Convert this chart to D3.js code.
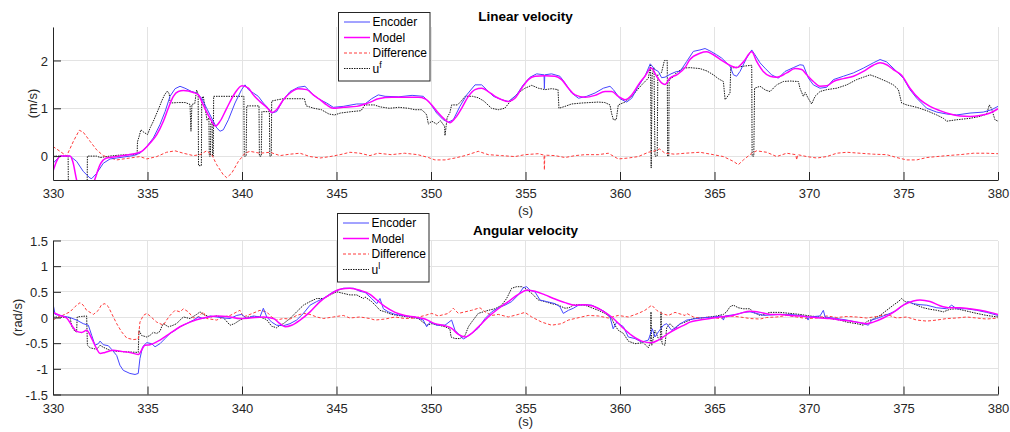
<!DOCTYPE html>
<html><head><meta charset="utf-8">
<script src="https://cdn.jsdelivr.net/npm/d3@7"></script>
<style>
body{margin:0;background:#fff;}
svg{display:block;font-family:"Liberation Sans",Arial,Helvetica,sans-serif;}
</style></head><body>
<svg id="chart" width="1010" height="432"></svg>
<script>
// ---------- tick labels ----------
const xTicks = [330,335,340,345,350,355,360,365,370,375,380];
const linYTicks = [0,1,2];
const angYTicks = [-1.5,-1,-0.5,0,0.5,1,1.5];
const linTitle = "Linear velocity";
const angTitle = "Angular velocity";
const xLabel = "(s)";
const linYLabel = "(m/s)";
const angYLabel = "(rad/s)";
const legendNames = ["Encoder","Model","Difference","u"];
const linUSup = "f";
const angUSup = "l";

// ---------- linear velocity series [time, value] ----------
const linEncoder = [[330.0,-0.15],[330.37,0],[330.9,0],[331.25,-0.11],[331.6,-0.32],[331.96,-0.46],[332.05,-0.47],[332.31,-0.36],[332.66,-0.15],[333.02,-0.06],[333.37,-0.04],[334.25,0.01],[334.6,0.06],[334.96,0.2],[335.31,0.38],[335.66,0.66],[335.93,0.93],[336.19,1.25],[336.46,1.41],[336.72,1.46],[336.98,1.42],[337.34,1.35],[337.6,1.32],[337.87,1.21],[338.13,1.0],[338.48,0.73],[338.66,0.59],[338.84,0.52],[339.01,0.55],[339.28,0.76],[339.63,1.11],[339.98,1.39],[340.16,1.49],[340.34,1.39],[340.6,1.32],[340.86,1.25],[341.13,1.11],[341.39,1.0],[341.57,0.9],[341.83,0.93],[342.19,1.18],[342.54,1.35],[342.98,1.44],[343.33,1.46],[343.51,1.39],[343.77,1.28],[344.13,1.18],[344.48,1.11],[344.83,1.02],[345.36,1.04],[346.07,1.09],[346.51,1.09],[346.86,1.2],[347.21,1.28],[347.57,1.25],[348.3,1.24],[349.0,1.27],[349.59,1.25],[349.95,1.11],[350.3,0.9],[350.65,0.76],[350.92,0.71],[351.18,0.76],[351.53,1.04],[351.89,1.28],[352.33,1.49],[352.68,1.49],[352.94,1.39],[353.3,1.25],[353.74,1.18],[354.09,1.14],[354.53,1.28],[354.88,1.49],[355.24,1.65],[355.59,1.72],[355.98,1.70],[356.0,1.41],[356.02,1.70],[356.38,1.72],[356.82,1.67],[357.09,1.53],[357.44,1.32],[357.8,1.21],[358.24,1.25],[358.68,1.32],[359.12,1.42],[359.47,1.46],[359.65,1.39],[360.0,1.2],[360.35,1.13],[360.62,1.21],[360.97,1.46],[361.32,1.67],[361.6,1.93],[361.85,1.81],[362.03,1.77],[362.2,1.64],[362.38,1.65],[362.7,1.72],[363.0,1.77],[363.18,1.77],[363.53,1.98],[363.88,2.19],[364.23,2.22],[364.5,2.25],[364.76,2.2],[365.11,2.12],[365.38,2.05],[365.56,1.98],[365.82,1.88],[366.0,1.7],[366.17,1.67],[366.35,1.77],[366.7,2.05],[366.97,2.22],[367.14,2.12],[367.41,1.95],[367.67,1.84],[368.02,1.7],[368.38,1.63],[368.73,1.77],[369.17,1.85],[369.52,1.91],[369.7,1.9],[369.97,1.63],[370.23,1.49],[370.58,1.42],[370.94,1.44],[371.29,1.6],[371.82,1.67],[372.35,1.74],[372.88,1.84],[373.4,1.95],[373.76,2.02],[374.11,1.97],[374.64,1.77],[374.99,1.63],[375.34,1.39],[375.7,1.21],[376.23,1.0],[376.76,0.92],[377.29,0.88],[377.81,0.86],[378.52,0.9],[379.22,0.92],[379.66,0.97],[380.0,1.04]];

const linModel = [[330.0,-0.32],[330.2,-0.1],[330.4,0.0],[330.9,0.0],[331.05,-0.12],[331.25,-0.5],[331.7,-0.95],[332.2,-0.5],[332.49,-0.18],[332.84,-0.04],[333.37,-0.01],[334.0,0.03],[334.43,0.06],[334.69,0.10],[335.13,0.27],[335.49,0.45],[335.84,0.73],[336.1,1.0],[336.37,1.25],[336.63,1.35],[336.9,1.37],[337.43,1.33],[337.69,1.28],[337.95,1.07],[338.31,0.79],[338.6,0.63],[338.84,0.73],[339.19,1.0],[339.63,1.32],[340.0,1.47],[340.34,1.42],[340.6,1.28],[340.95,1.14],[341.31,1.02],[341.6,0.91],[341.83,0.97],[342.19,1.18],[342.54,1.32],[342.98,1.41],[343.42,1.39],[343.77,1.28],[344.13,1.18],[344.48,1.07],[344.83,1.0],[345.36,1.02],[346.07,1.04],[346.51,1.09],[346.86,1.14],[347.21,1.2],[347.92,1.23],[348.62,1.23],[349.33,1.23],[349.68,1.2],[350.04,1.07],[350.39,0.9],[350.74,0.76],[351.0,0.7],[351.27,0.79],[351.62,1.0],[351.98,1.25],[352.33,1.39],[352.68,1.42],[353.03,1.35],[353.39,1.25],[353.74,1.18],[354.09,1.14],[354.44,1.21],[354.8,1.42],[355.15,1.6],[355.5,1.67],[356.03,1.68],[356.56,1.67],[356.91,1.6],[357.27,1.42],[357.62,1.28],[358.15,1.23],[358.68,1.27],[359.21,1.35],[359.56,1.35],[359.91,1.25],[360.26,1.18],[360.62,1.28],[360.97,1.49],[361.32,1.67],[361.65,1.84],[361.94,1.67],[362.2,1.53],[362.38,1.5],[362.64,1.63],[363.0,1.7],[363.44,1.85],[363.7,2.02],[364.23,2.15],[364.59,2.18],[364.94,2.12],[365.47,1.98],[365.91,1.88],[366.17,1.85],[366.53,1.97],[366.97,2.18],[367.23,1.98],[367.58,1.77],[367.94,1.67],[368.29,1.65],[368.82,1.74],[369.26,1.83],[369.61,1.81],[369.88,1.7],[370.23,1.56],[370.58,1.46],[370.94,1.47],[371.29,1.56],[371.82,1.62],[372.35,1.67],[372.88,1.77],[373.4,1.9],[373.76,1.95],[374.11,1.91],[374.46,1.81],[374.9,1.69],[375.34,1.42],[375.87,1.18],[376.4,1.04],[376.93,0.95],[377.46,0.88],[377.99,0.84],[378.52,0.83],[379.05,0.85],[379.58,0.9],[380.0,0.99]];

const linDiff = [[330.0,0.2],[330.37,0.1],[330.72,0.0],[331.08,0.31],[331.39,0.54],[331.6,0.5],[331.96,0.31],[332.31,0.13],[332.66,0.01],[333.37,-0.08],[334.07,-0.04],[334.6,-0.01],[334.96,-0.06],[335.49,-0.01],[336.01,0.08],[336.46,0.11],[336.9,0.06],[337.43,0.01],[337.78,0.03],[338.13,0.11],[338.4,0.03],[338.66,-0.18],[339.01,-0.39],[339.19,-0.45],[339.45,-0.36],[339.81,-0.11],[340.16,0.06],[340.42,0.1],[340.95,0.06],[341.48,0.08],[342.01,0.01],[342.54,0.04],[343.07,0.06],[343.6,-0.01],[344.13,-0.04],[344.66,-0.01],[345.19,0.03],[345.71,0.08],[346.24,0.06],[346.77,0.01],[347.2,0.06],[347.9,0.03],[348.6,0.06],[349.3,0.03],[349.86,-0.03],[350.21,-0.08],[350.74,-0.08],[351.27,-0.04],[351.8,0.01],[352.5,0.1],[353.03,0.03],[353.74,0.01],[354.44,-0.01],[354.97,0.03],[355.68,0.05],[355.98,0.02],[356.0,-0.29],[356.02,0.02],[356.56,0.01],[357.09,-0.03],[357.62,0.01],[358.15,0.03],[358.85,0.03],[359.38,0.06],[359.91,-0.06],[360.44,-0.04],[360.97,-0.01],[361.5,0.08],[361.85,0.11],[362.1,0.15],[362.38,0.06],[362.9,0.04],[363.44,0.06],[364.23,0.08],[364.94,0.03],[365.47,-0.01],[366.0,-0.11],[366.26,-0.18],[366.53,-0.08],[366.97,0.06],[367.23,0.11],[367.76,0.08],[368.29,-0.01],[368.82,0.06],[369.3,0.03],[369.35,-0.08],[369.4,0.03],[369.88,-0.01],[370.41,-0.04],[370.94,-0.01],[371.47,0.06],[372.0,0.08],[372.7,0.06],[373.4,0.04],[374.11,0.03],[374.64,-0.03],[375.17,-0.08],[375.7,-0.08],[376.23,-0.03],[376.76,-0.01],[377.29,0.01],[377.99,0.03],[378.7,0.06],[379.4,0.06],[380.0,0.05]];

const linU = [[330.0,0],[330.8,0],[330.82,-1.0],[331.8,-1.0],[331.82,0.0],[332.3,0.0],[332.5,-0.03],[333.0,0.0],[333.5,0.02],[334.0,0.03],[334.45,0.03],[334.47,0.3],[334.55,0.4],[334.65,0.55],[334.8,0.5],[335.0,0.45],[335.15,0.6],[335.3,0.72],[335.45,0.86],[335.6,1.0],[335.75,1.15],[335.9,1.28],[336.05,1.36],[336.15,1.3],[336.2,1.11],[336.6,1.12],[337.0,1.12],[337.25,1.08],[337.3,0.52],[337.35,1.08],[337.5,1.1],[337.6,1.38],[337.68,1.3],[337.7,-0.2],[337.85,-0.2],[337.87,1.2],[337.95,1.25],[338.05,1.0],[338.15,0.75],[338.25,0.8],[338.27,0.0],[338.33,0.0],[338.35,0.7],[338.42,0.7],[338.44,0.0],[338.48,0.0],[338.5,1.25],[340.1,1.25],[340.12,0.0],[340.22,0.0],[340.25,1.05],[340.9,1.05],[340.92,0.0],[341.02,0.0],[341.05,0.93],[341.45,0.93],[341.47,0.0],[341.55,0.0],[341.57,1.15],[341.9,1.18],[342.2,1.2],[343.3,1.2],[343.4,1.05],[343.8,1.0],[344.2,0.97],[344.6,0.88],[344.9,0.86],[345.2,0.9],[345.8,0.93],[346.3,0.95],[346.5,1.07],[347.0,1.07],[347.3,1.03],[347.8,1.0],[348.3,1.02],[348.8,1.0],[349.15,0.97],[349.5,0.97],[349.7,0.9],[349.77,0.86],[349.86,0.67],[350.04,0.73],[350.3,0.67],[350.5,0.74],[350.65,0.66],[350.72,0.62],[350.74,0.43],[350.8,0.62],[350.85,0.8],[351.0,0.91],[351.09,1.07],[351.4,1.07],[351.6,1.15],[351.8,1.25],[352.2,1.25],[352.5,1.22],[352.8,1.15],[353.2,1.0],[353.56,0.97],[353.9,1.0],[354.27,1.18],[354.62,1.32],[354.97,1.42],[355.33,1.48],[355.68,1.42],[356.03,1.39],[356.38,1.41],[356.72,1.39],[356.77,1.0],[357.09,1.04],[357.44,1.09],[357.97,1.11],[358.85,1.13],[359.2,1.12],[359.47,1.07],[359.55,0.9],[359.65,0.76],[359.8,0.76],[359.91,1.07],[360.26,1.13],[360.62,1.25],[361.15,1.49],[361.5,1.63],[361.62,1.9],[361.65,-0.25],[361.7,1.7],[361.8,1.85],[361.85,0.0],[361.97,0.0],[362.0,1.7],[362.2,1.75],[362.35,2.0],[362.5,2.0],[362.52,0.0],[362.58,0.0],[362.6,1.6],[362.8,1.65],[363.0,1.75],[363.35,1.84],[363.7,1.85],[364.23,1.83],[364.6,1.78],[364.94,1.7],[365.2,1.62],[365.47,1.56],[365.56,1.18],[365.64,1.22],[365.82,1.32],[365.86,1.84],[366.2,1.86],[366.53,1.88],[366.97,1.9],[366.99,0.0],[367.08,0.0],[367.12,1.42],[367.41,1.46],[367.7,1.38],[367.94,1.35],[368.29,1.49],[368.64,1.56],[369.0,1.57],[369.44,1.56],[369.52,1.42],[369.7,1.25],[369.8,1.33],[369.97,1.2],[370.14,1.09],[370.32,1.25],[370.58,1.35],[370.94,1.39],[371.47,1.42],[372.0,1.49],[372.52,1.6],[372.88,1.65],[373.23,1.7],[373.58,1.65],[374.11,1.56],[374.46,1.49],[374.73,1.39],[374.9,1.11],[375.17,1.07],[375.7,1.02],[376.23,0.95],[376.76,0.86],[377.11,0.79],[377.29,0.73],[377.81,0.76],[378.52,0.79],[379.05,0.83],[379.4,0.88],[379.54,1.07],[379.65,1.0],[379.84,0.76],[380.0,0.73]];

// ---------- angular velocity series [time, value] ----------
const angEncoder = [[330.0,0.27],[330.11,0.06],[330.9,0.0],[331.25,-0.05],[331.6,-0.12],[331.87,-0.15],[332.05,-0.35],[332.22,-0.54],[332.4,-0.51],[332.49,-0.46],[332.66,-0.53],[332.93,-0.55],[333.1,-0.62],[333.37,-0.74],[333.54,-0.93],[333.72,-1.03],[334.07,-1.09],[334.34,-1.11],[334.51,-1.09],[334.6,-0.8],[334.74,-0.57],[334.96,-0.49],[335.22,-0.51],[335.4,-0.57],[335.66,-0.51],[335.93,-0.41],[336.19,-0.31],[336.46,-0.25],[336.72,-0.18],[337.07,-0.12],[337.43,-0.05],[337.69,0.01],[337.95,-0.02],[338.31,0.03],[338.66,0.01],[339.01,-0.01],[339.37,-0.02],[339.72,0.04],[339.98,0.06],[340.25,-0.02],[340.6,0.03],[340.95,0.01],[341.13,0.18],[341.31,0.01],[341.57,-0.09],[341.83,-0.15],[342.19,-0.16],[342.54,-0.12],[342.89,-0.05],[343.25,0.08],[343.6,0.24],[343.95,0.31],[344.3,0.37],[344.83,0.5],[345.36,0.57],[345.89,0.57],[346.24,0.51],[346.51,0.49],[346.86,0.37],[347.13,0.27],[347.3,0.37],[347.48,0.17],[347.74,0.11],[348.1,0.06],[348.62,0.03],[349.15,0.01],[349.59,-0.05],[349.77,-0.18],[349.95,-0.09],[350.3,-0.15],[350.74,-0.15],[351.09,-0.05],[351.27,-0.25],[351.53,-0.35],[351.71,-0.42],[351.89,-0.38],[352.15,-0.31],[352.5,-0.21],[352.86,-0.02],[353.21,0.11],[353.56,0.19],[353.91,0.24],[354.27,0.31],[354.62,0.44],[354.88,0.58],[355.06,0.6],[355.24,0.53],[355.5,0.5],[355.77,0.34],[356.12,0.31],[356.56,0.27],[356.82,0.21],[357.0,0.08],[357.27,0.14],[357.53,0.18],[357.8,0.24],[358.15,0.25],[358.5,0.24],[358.85,0.18],[359.21,0.11],[359.47,0.01],[359.64,-0.22],[359.82,-0.09],[360.18,-0.18],[360.44,-0.38],[360.79,-0.41],[361.15,-0.48],[361.5,-0.44],[361.71,-0.22],[361.85,-0.38],[362.03,-0.28],[362.3,-0.15],[362.47,-0.12],[362.73,-0.25],[363.09,-0.15],[363.3,-0.1],[363.53,-0.05],[363.88,-0.03],[364.23,-0.01],[364.94,0.01],[365.38,0.03],[365.47,-0.05],[365.56,0.03],[366.17,0.06],[366.53,0.1],[366.88,0.11],[367.23,0.08],[367.58,0.04],[368.0,0.05],[368.47,0.06],[369.0,0.06],[369.52,0.04],[369.88,0.01],[369.95,-0.05],[370.02,0.01],[370.58,0.03],[370.76,0.14],[370.85,0.01],[371.47,-0.02],[372.0,-0.05],[372.52,-0.09],[372.88,-0.12],[373.14,-0.15],[373.32,-0.05],[373.58,-0.02],[373.93,0.03],[374.29,0.08],[374.64,0.14],[374.99,0.24],[375.26,0.31],[375.52,0.27],[375.87,0.25],[376.23,0.24],[376.76,0.19],[377.29,0.17],[377.55,0.24],[377.81,0.17],[378.34,0.17],[378.87,0.14],[379.4,0.1],[380.0,0.04]];

const angModel = [[330.0,0.1],[330.37,0.04],[330.72,-0.01],[330.99,-0.15],[331.25,-0.27],[331.52,-0.29],[331.78,-0.25],[332.05,-0.41],[332.31,-0.61],[332.49,-0.7],[332.75,-0.68],[333.19,-0.64],[333.63,-0.66],[334.07,-0.68],[334.51,-0.72],[334.87,-0.54],[335.13,-0.53],[335.66,-0.44],[336.19,-0.31],[336.72,-0.18],[337.25,-0.09],[337.95,-0.01],[338.66,0.03],[339.37,0.01],[339.89,-0.02],[340.42,-0.01],[341.13,0.01],[341.66,-0.02],[342.01,-0.12],[342.28,-0.18],[342.63,-0.15],[343.07,-0.05],[343.6,0.11],[344.13,0.31],[344.66,0.45],[345.19,0.55],[345.71,0.57],[346.24,0.53],[346.77,0.45],[347.04,0.37],[347.57,0.21],[348.1,0.1],[348.62,0.04],[349.15,0.01],[349.68,-0.03],[350.21,-0.12],[350.74,-0.16],[351.09,-0.21],[351.45,-0.33],[351.8,-0.38],[352.15,-0.31],[352.59,-0.15],[353.03,0.01],[353.56,0.17],[354.09,0.31],[354.62,0.45],[355.06,0.53],[355.5,0.51],[356.03,0.44],[356.56,0.36],[357.09,0.29],[357.62,0.24],[358.06,0.25],[358.5,0.23],[359.03,0.14],[359.56,0.01],[360.09,-0.18],[360.62,-0.35],[361.15,-0.46],[361.68,-0.49],[362.03,-0.44],[362.56,-0.31],[363.09,-0.2],[363.44,-0.14],[363.7,-0.09],[364.23,-0.05],[364.76,-0.02],[365.29,0.01],[365.82,0.03],[366.35,0.08],[366.88,0.12],[367.41,0.1],[367.94,0.06],[368.47,0.06],[369.0,0.04],[369.52,0.03],[370.05,0.01],[370.58,-0.01],[371.11,-0.02],[371.64,-0.05],[372.17,-0.07],[372.7,-0.1],[373.05,-0.12],[373.4,-0.09],[373.93,-0.01],[374.46,0.1],[374.99,0.24],[375.52,0.32],[375.87,0.34],[376.4,0.31],[376.93,0.23],[377.46,0.19],[377.99,0.19],[378.52,0.17],[379.05,0.14],[379.58,0.1],[380.0,0.06]];

const angDiff = [[330.0,-0.05],[330.19,-0.01],[330.5,0.04],[330.9,0.11],[331.16,0.21],[331.43,0.29],[331.6,0.24],[331.78,0.14],[331.96,0.1],[332.14,0.06],[332.4,0.14],[332.57,0.25],[332.75,0.27],[332.93,0.21],[333.1,0.08],[333.37,-0.12],[333.63,-0.28],[333.9,-0.4],[334.25,-0.43],[334.51,-0.42],[334.6,-0.09],[334.78,0.04],[334.96,0.08],[335.13,0.03],[335.49,-0.09],[335.84,-0.15],[336.01,-0.05],[336.19,0.04],[336.46,0.14],[336.72,0.11],[336.9,0.17],[337.16,0.11],[337.43,-0.01],[337.69,0.01],[337.95,0.11],[338.13,-0.02],[338.66,-0.05],[339.01,0.01],[339.37,0.04],[339.89,0.14],[340.07,0.01],[340.42,0.06],[340.95,0.14],[341.3,0.11],[341.57,0.01],[341.83,-0.05],[342.19,-0.02],[342.54,-0.03],[342.89,0.04],[343.25,0.08],[343.6,0.06],[343.95,0.01],[344.3,-0.02],[344.83,0.01],[345.36,0.04],[345.71,-0.01],[346.24,0.01],[346.77,-0.02],[347.04,-0.05],[347.57,-0.03],[348.1,0.01],[348.62,-0.02],[349.15,-0.01],[349.68,0.04],[350.04,0.08],[350.39,0.03],[350.92,0.08],[351.18,0.18],[351.45,0.08],[351.8,0.11],[352.15,0.14],[352.59,0.19],[352.86,0.11],[353.21,0.04],[353.56,0.06],[354.09,0.01],[354.62,0.06],[354.97,0.1],[355.33,0.01],[355.86,-0.09],[356.38,-0.15],[356.91,-0.12],[357.27,-0.05],[357.62,-0.02],[358.32,0.04],[358.85,0.03],[359.38,-0.01],[359.91,0.04],[360.44,0.01],[360.97,0.08],[361.32,0.14],[361.68,0.24],[361.94,0.14],[362.2,0.08],[362.56,0.04],[362.91,0.1],[363.44,0.04],[363.53,0.08],[363.88,0.01],[364.23,-0.01],[364.76,0.01],[365.29,-0.02],[365.82,0.03],[366.35,0.01],[366.88,-0.02],[367.41,-0.03],[367.76,0.0],[368.29,0.01],[368.82,0.04],[369.35,0.01],[369.88,-0.02],[370.41,-0.01],[370.94,0.03],[371.47,0.0],[372.0,0.02],[372.52,0.01],[373.05,-0.01],[373.58,0.02],[374.11,0.06],[374.64,-0.01],[375.17,0.01],[375.7,-0.05],[376.23,-0.07],[376.76,-0.05],[377.29,-0.02],[377.81,-0.01],[378.34,0.01],[378.87,-0.01],[379.4,-0.03],[380.0,-0.01]];

const angU = [[330.0,0.01],[330.9,0.0],[331.0,-0.18],[331.16,-0.27],[331.25,-0.28],[331.28,0.01],[331.5,0.02],[331.78,0.03],[331.82,-0.54],[331.96,-0.59],[332.31,-0.62],[332.49,-0.54],[332.66,-0.58],[333.02,-0.64],[333.37,-0.66],[333.9,-0.67],[334.51,-0.68],[334.55,-0.25],[334.69,-0.35],[334.96,-0.38],[335.13,-0.35],[335.3,-0.29],[335.49,-0.31],[335.66,-0.27],[335.75,-0.18],[335.84,-0.12],[336.1,-0.18],[336.3,-0.16],[336.54,-0.12],[336.72,-0.05],[336.9,0.01],[337.25,-0.02],[337.6,0.06],[337.78,0.11],[337.95,0.06],[338.31,0.01],[338.66,0.03],[339.0,0.0],[339.37,-0.15],[339.6,-0.12],[339.89,-0.05],[340.25,0.01],[340.95,0.01],[341.3,-0.04],[341.57,-0.17],[341.83,-0.2],[342.0,-0.15],[342.19,-0.12],[342.54,-0.02],[342.89,0.11],[343.25,0.24],[343.6,0.31],[343.95,0.37],[344.3,0.37],[344.66,0.44],[345.01,0.5],[345.36,0.47],[345.71,0.44],[346.07,0.44],[346.42,0.37],[346.51,0.4],[346.86,0.31],[347.13,0.21],[347.3,0.14],[347.57,0.11],[347.92,0.06],[348.27,0.04],[348.8,0.01],[349.33,-0.02],[349.77,-0.15],[350.04,-0.12],[350.39,-0.15],[350.74,-0.18],[351.0,-0.22],[351.06,-0.38],[351.27,-0.41],[351.53,-0.41],[351.8,-0.35],[351.98,-0.18],[352.15,-0.09],[352.5,0.08],[352.77,0.11],[353.03,0.14],[353.39,0.17],[353.74,0.24],[354.0,0.37],[354.27,0.57],[354.53,0.6],[354.8,0.6],[354.97,0.57],[355.33,0.47],[355.68,0.34],[356.03,0.31],[356.38,0.27],[356.74,0.24],[357.09,0.18],[357.3,0.19],[357.53,0.24],[357.8,0.25],[358.15,0.24],[358.5,0.19],[358.85,0.14],[359.21,0.08],[359.56,-0.02],[359.73,-0.15],[359.91,-0.25],[360.18,-0.31],[360.44,-0.46],[360.79,-0.51],[361.23,-0.49],[361.5,-0.59],[361.6,-0.5],[361.64,0.11],[361.68,-0.54],[361.85,-0.25],[362.03,-0.41],[362.13,-0.45],[362.17,0.11],[362.22,-0.51],[362.38,-0.54],[362.47,-0.2],[362.64,-0.12],[362.91,-0.22],[363.17,-0.12],[363.44,-0.09],[363.88,-0.02],[364.23,-0.01],[364.76,0.01],[365.11,0.03],[365.47,0.06],[365.64,0.11],[365.82,0.21],[366.0,0.24],[366.26,0.19],[366.53,0.17],[366.88,0.17],[367.06,0.1],[367.41,0.04],[367.94,0.1],[368.47,0.1],[369.0,0.08],[369.52,0.06],[370.05,0.03],[370.58,0.01],[371.11,-0.02],[371.64,-0.05],[372.0,-0.09],[372.52,-0.12],[372.88,-0.15],[373.05,-0.08],[373.4,-0.03],[373.76,0.04],[374.11,0.14],[374.46,0.24],[374.73,0.31],[374.9,0.37],[375.08,0.31],[375.34,0.29],[375.7,0.24],[376.05,0.19],[376.4,0.16],[376.76,0.14],[377.11,0.11],[377.46,0.16],[377.81,0.17],[378.17,0.14],[378.52,0.11],[378.87,0.08],[379.4,0.04],[380.0,0.01]];

// ---------- drawing ----------
const svg = d3.select("#chart");
const FONT = '"Liberation Sans",Arial,Helvetica,sans-serif';
const axisColor = "#262626";
const gridColor = "#e3e3e3";
const styles = [
  {color:"#4646ff", width:1, dash:null},
  {color:"#ff00ff", width:1.5, dash:null},
  {color:"#ff3b3b", width:1, dash:"3,2"},
  {color:"#1a1a1a", width:1, dash:"1.5,1"}
];

function panel(cfg){
  const x = d3.scaleLinear().domain([330,380]).range([53,998]);
  const y = d3.scaleLinear().domain(cfg.yDomain).range([cfg.bottom, cfg.top]);
  const g = svg.append("g");
  const clipId = "clip"+cfg.id;
  svg.append("clipPath").attr("id",clipId).append("rect")
    .attr("x",53).attr("y",cfg.top).attr("width",945).attr("height",cfg.bottom-cfg.top);

  // grid
  const grid = g.append("g");
  grid.selectAll("line.gx").data(xTicks).join("line")
    .attr("x1",d=>x(d)).attr("x2",d=>x(d)).attr("y1",cfg.top).attr("y2",cfg.bottom)
    .attr("stroke",gridColor).attr("stroke-width",1).attr("shape-rendering","crispEdges");
  grid.selectAll("line.gy").data(cfg.yTicks).join("line")
    .attr("x1",53).attr("x2",998).attr("y1",d=>y(d)).attr("y2",d=>y(d))
    .attr("stroke",gridColor).attr("stroke-width",1).attr("shape-rendering","crispEdges");

  // data
  const line = d3.line().x(d=>x(d[0])).y(d=>y(d[1]));
  const smooth = d3.line().x(d=>x(d[0])).y(d=>y(d[1])).curve(d3.curveMonotoneX);
  const dg = g.append("g").attr("clip-path",`url(#${clipId})`);
  const order = [3,2,0,1];
  order.forEach(i=>{
    const s = styles[i];
    dg.append("path").datum(cfg.series[i])
      .attr("d", i===1 ? smooth : line)
      .attr("fill","none").attr("stroke",s.color).attr("stroke-width",s.width)
      .attr("stroke-dasharray",s.dash).attr("stroke-linejoin","round");
  });

  // axes
  const xa = g.append("g").attr("transform",`translate(0,${cfg.bottom})`)
    .call(d3.axisBottom(x).tickValues(xTicks).tickFormat(d=>String(d)).tickSizeInner(-8).tickSizeOuter(0).tickPadding(9));
  const ya = g.append("g").attr("transform",`translate(53,0)`)
    .call(d3.axisLeft(y).tickValues(cfg.yTicks).tickFormat(d=>String(d)).tickSizeInner(-8).tickSizeOuter(0).tickPadding(5));
  [xa,ya].forEach(a=>{
    a.selectAll("path,line").attr("stroke",axisColor).attr("stroke-width",1);
    a.selectAll("text").attr("fill",axisColor).style("font-family",FONT).style("font-size","13px");
  });
  ya.selectAll("text").attr("dy","0.35em");

  // labels
  g.append("text").attr("x",525.5).attr("y",cfg.xlabY).attr("text-anchor","middle")
    .attr("fill",axisColor).style("font-size","13px").text(xLabel);
  g.append("text").attr("transform",`translate(${cfg.ylabX},${(cfg.top+cfg.bottom)/2}) rotate(-90)`)
    .attr("text-anchor","middle").attr("fill",axisColor).style("font-size","13px").text(cfg.yLabel);
  g.append("text").attr("x",525.5).attr("y",cfg.titleY).attr("text-anchor","middle")
    .attr("fill","#000").style("font-size","13.5px").style("font-weight","bold").text(cfg.title);

  // legend
  const lg = g.append("g").attr("transform",`translate(${cfg.legX},${cfg.legY})`);
  lg.append("rect").attr("x",0.5).attr("y",0.5).attr("width",91.5).attr("height",68.5)
    .attr("fill","#fff").attr("stroke",axisColor).attr("stroke-width",1);
  legendNames.forEach((nm,i)=>{
    const s = styles[i];
    const cy = 10 + i*15.5;
    lg.append("line").attr("x1",6).attr("x2",32).attr("y1",cy).attr("y2",cy)
      .attr("stroke",s.color).attr("stroke-width",s.width).attr("stroke-dasharray",s.dash);
    const t = lg.append("text").attr("x",34.5).attr("y",cy+4.3).attr("fill","#000")
      .style("font-size","12px");
    t.append("tspan").text(nm);
    if(i===3){
      t.append("tspan").attr("dy",-5).style("font-size","9px").text(cfg.uSup);
    }
  });
}

panel({id:1, yDomain:[-0.5,2.7], top:27, bottom:180, yTicks:linYTicks,
  series:[linEncoder,linModel,linDiff,linU], yLabel:linYLabel, ylabX:37,
  title:linTitle, titleY:21, legX:338, legY:12, uSup:linUSup, xlabY:215});
panel({id:2, yDomain:[-1.5,1.5], top:240.5, bottom:394.5, yTicks:angYTicks,
  series:[angEncoder,angModel,angDiff,angU], yLabel:angYLabel, ylabX:22,
  title:angTitle, titleY:235, legX:337, legY:213, uSup:angUSup, xlabY:426});
</script>
</body></html>
